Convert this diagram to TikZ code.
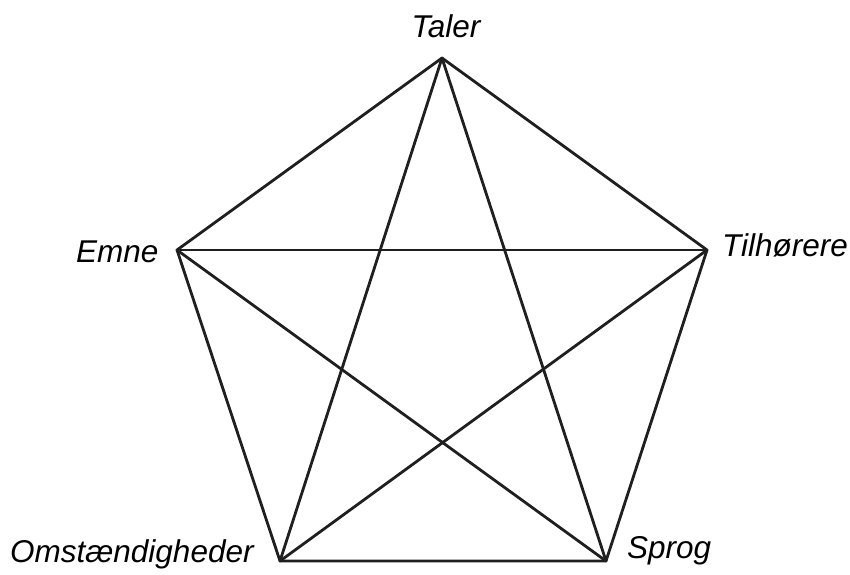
\documentclass[tikz,border=0pt]{standalone}
\usepackage{fontspec}
\setmainfont{Liberation Sans}
\begin{document}
\begin{tikzpicture}[x=1pt,y=-1pt,
  edge/.style={line width=2.8pt, line join=round, line cap=round, color=black!88},
  lbl/.style={inner sep=0pt, font=\fontsize{31.5}{36}\selectfont\itshape}]
\useasboundingbox (0,0) rectangle (850,574);
\coordinate (T) at (442,58);
\coordinate (E) at (177,250);
\coordinate (H) at (707,250);
\coordinate (O) at (280,561);
\coordinate (S) at (606,561);
\node[lbl, anchor=base] (lT) at (446,37) {Taler};
\node[lbl, anchor=base west] (lE) at (76,262) {Emne};
\node[lbl, anchor=base west] (lH) at (722,256) {Tilhørere};
\node[lbl, anchor=base west] (lO) at (10,562) {Omstændigheder};
\node[lbl, anchor=base west] (lS) at (627,558) {Sprog};
\draw[edge] (T) -- (E) -- (O) -- (S) -- (H) -- cycle;
\draw[edge] (T) -- (O);
\draw[edge] (T) -- (S);
\draw[edge] (E) -- (H);
\draw[edge] (E) -- (S);
\draw[edge] (H) -- (O);
\end{tikzpicture}
\end{document}
